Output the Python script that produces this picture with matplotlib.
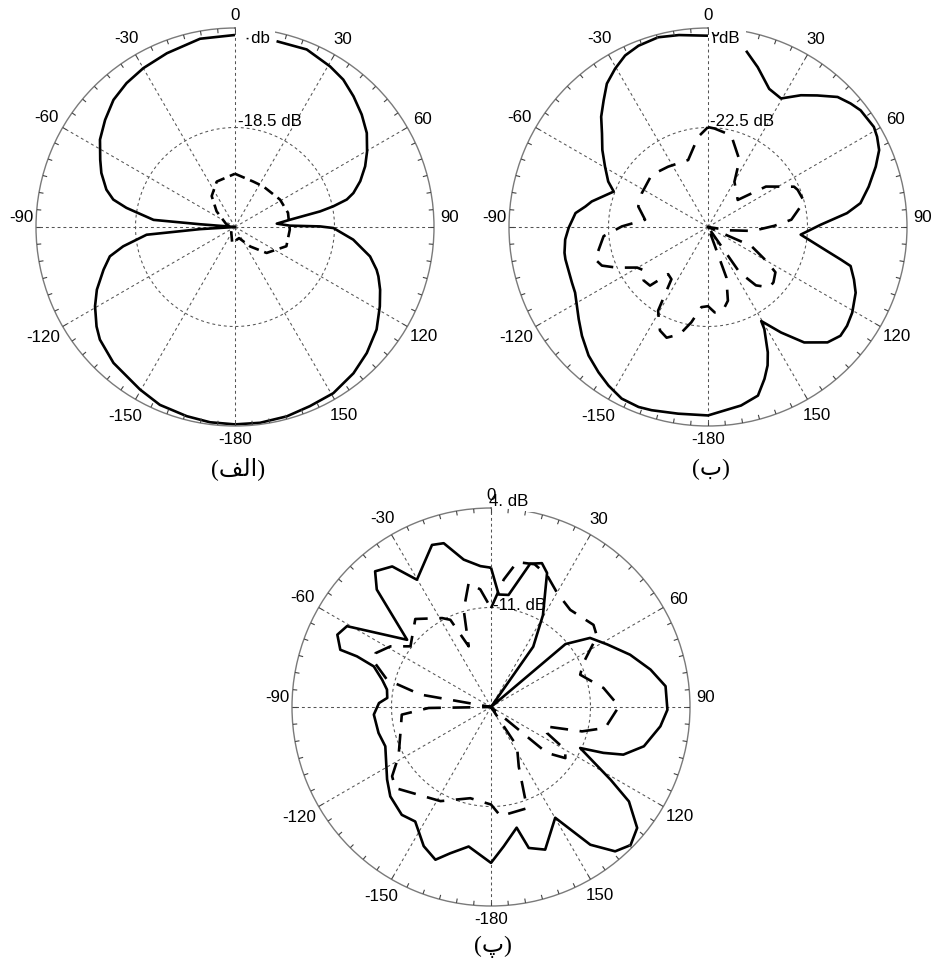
import numpy as np
import matplotlib
matplotlib.use("Agg")
import matplotlib.pyplot as plt
from matplotlib.patches import Rectangle

# ---------------- radiation patterns (angle in degrees, clockwise from top; level in dB) ----------------
# panel (الف): scale -37 .. 0 dB
a_solid_deg = [12.6, 22.0, 30.6, 36.3, 42.2, 48.4, 54.5, 60.2, 65.0, 69.9, 74.0, 76.2, 78.1, 79.6,
               82.4, 85.4, 88.6, 89.6, 90.6, 96.1, 102.3, 106.8, 109.0, 113.4, 118.7, 125.9, 133.7,
               141.0, 149.4, 157.3, 164.7, 172.7, 180.0, 187.3, 194.3, 202.9, 210.3, 221.8, 230.2,
               234.3, 240.5, 245.6, 252.0, 256.8, 260.2, 265.0, 266.5, 270.0, 274.5, 275.0, 280.0,
               282.7, 286.2, 292.0, 296.5, 302.9, 309.5, 316.3, 323.0, 330.0, 338.6, 349.5, 360.0]
a_solid_db = [-1.6, -1.4, -2.3, -3.0, -4.2, -5.5, -6.9, -8.7, -10.3, -12.2, -14.1, -15.6, -18.3, -20.9,
              -26.6, -29.2, -26.8, -21.2, -18.7, -14.9, -11.3, -9.5, -8.8, -7.6, -6.3, -4.5, -3.1,
              -2.0, -1.1, -0.9, -0.5, -0.3, -0.3, -0.4, -0.7, -1.1, -2.0, -3.1, -4.3,
              -5.3, -7.1, -8.8, -11.3, -13.1, -15.9, -20.5, -30.5, -37.0, -30.5, -21.8, -16.5,
              -13.8, -12.1, -10.2, -9.0, -7.1, -5.7, -4.3, -3.5, -2.9, -2.3, -1.4, -1.3]
a_dash_deg = [0.0, 21.9, 34.9, 58.7, 75.0, 92.8, 110.5, 129.4, 142.0, 160.0, 190.0, 220.0, 260.0,
              290.0, 310.5, 323.0, 338.1, 360.0]
a_dash_db = [-27.1, -27.9, -27.8, -27.2, -26.8, -26.8, -26.8, -29.4, -32.4, -34.8, -34.0, -35.9, -36.3,
             -35.2, -32.5, -29.8, -27.9, -27.1]

# panel (ب): scale -47 .. 2 dB
b_solid_deg = [12.2, 17.3, 23.9, 29.6, 35.2, 39.7, 44.9, 49.1, 52.6, 58.9, 61.9, 65.8, 70.2, 75.9,
               81.1, 84.3, 88.8, 94.7, 101.5, 103.8, 105.3, 109.8, 114.0, 120.7, 125.4, 129.4, 134.0,
               140.2, 145.3, 150.5, 151.1, 154.5, 156.7, 159.6, 163.5, 169.5, 180.0, 189.1, 197.1,
               201.1, 206.7, 212.1, 217.0, 222.9, 229.2, 234.5, 243.7, 247.7, 257.2, 259.8, 265.0,
               269.7, 276.0, 279.5, 282.4, 290.6, 294.5, 300.4, 306.1, 311.4, 315.9, 320.5, 324.8,
               329.6, 334.2, 339.0, 345.3, 351.4, 360.0]
b_solid_db = [-2.6, -5.8, -9.8, -10.6, -7.3, -4.9, -1.8, -0.55, 0.3, 0.7, 0.2, -0.8, -3.1, -6.2,
              -9.0, -12.6, -19.2, -24.1, -17.0, -13.3, -10.6, -8.8, -7.2, -5.7, -5.0, -4.8, -6.1,
              -10.0, -15.4, -20.4, -18.3, -12.8, -9.9, -7.1, -3.7, -2.3, -0.6, -0.45, 0.2,
              0.5, 0.3, -0.9, -2.2, -3.8, -6.0, -7.9, -10.5, -10.8, -11.0, -11.1, -11.7,
              -12.7, -14.2, -16.4, -17.7, -22.2, -20.0, -17.6, -14.8, -12.2, -9.2, -6.6, -3.8,
              -1.8, -0.1, 0.8, 1.3, 0.8, 0.1]
b_dash_deg = [0.0, 3.8, 14.2, 25.2, 30.3, 47.7, 55.1, 64.9, 67.5, 75.1, 85.0, 89.0, 95.0, 98.7, 103.0,
              113.6, 120.2, 123.9, 130.2, 134.5, 140.6, 145.2, 152.0, 160.0, 164.9, 169.9, 175.5,
              180.0, 184.7, 189.9, 194.7, 200.5, 204.9, 210.8, 215.0, 220.2, 224.7, 230.3, 235.2,
              240.2, 246.0, 250.0, 254.0, 265.0, 270.4, 276.6, 286.4, 297.0, 312.7, 326.6, 343.5,
              353.7, 360.0]
b_dash_db = [-22.4, -22.7, -23.7, -28.8, -34.1, -37.1, -29.6, -23.6, -23.1, -22.5, -26.4, -30.7, -35.9,
             -41.6, -47.0, -35.4, -30.4, -27.0, -25.9, -25.8, -28.4, -33.4, -47.0, -33.8, -28.2,
             -26.1, -25.9, -27.5, -27.2, -23.2, -19.7, -17.9, -18.9, -23.0, -31.3, -31.8, -26.7,
             -26.4, -28.1, -26.9, -22.4, -19.2, -18.1, -21.2, -25.8, -31.4, -29.1, -28.7, -28.1,
             -29.2, -29.8, -24.7, -22.4]

# panel (پ): scale -26 .. 4 dB
c_solid_deg = [0.0, 3.9, 8.9, 15.3, 19.5, 22.7, 29.5, 35.0, 40.0, 49.8, 55.1, 61.7, 69.4, 76.8, 83.2,
               90.9, 96.5, 104.4, 109.8, 112.2, 114.7, 121.3, 124.4, 129.6, 134.7, 139.3, 144.2,
               149.9, 159.2, 165.0, 168.0, 174.8, 180.0, 189.1, 195.6, 200.0, 205.8, 213.5, 219.6,
               228.4, 235.1, 249.6, 257.0, 266.3, 272.0, 275.0, 279.5, 284.0, 289.1, 290.7, 290.8,
               295.2, 299.3, 308.7, 315.8, 319.5, 324.9, 329.8, 340.0, 343.9, 349.5, 355.7, 360.0]
c_solid_db = [-5.0, -9.0, -8.9, -3.6, -3.0, -4.1, -10.1, -14.9, -26.0, -11.3, -7.8, -6.1, -3.6, -1.3, 0.5,
              0.6, -0.3, -2.2, -4.8, -7.7, -11.2, -4.9, -0.8, 2.6, 3.6, 2.7, -0.4,
              -6.7, -3.0, -4.0, -7.4, -4.9, -2.5, -4.7, -3.1, -1.5, -2.7, -5.3, -4.9,
              -5.7, -6.9, -9.0, -8.6, -8.3, -9.1, -10.3, -10.1, -9.1, -7.3, -4.4, -1.7,
              -0.4, -1.1, -9.8, -1.3, 0.9, -0.1, -3.8, 0.0, -0.3, -3.4, -4.7, -5.0]
c_dash_deg = [0.0, 5.7, 10.2, 17.0, 23.0, 30.0, 39.2, 51.3, 56.3, 64.6, 70.1, 80.4, 89.7, 100.4, 105.0,
              109.6, 114.9, 119.9, 124.5, 129.4, 137.0, 146.5, 155.0, 160.4, 175.0, 180.0, 192.8,
              208.2, 229.7, 235.0, 241.9, 253.0, 265.1, 269.1, 274.0, 280.0, 284.7, 291.3, 295.0,
              301.1, 307.0, 319.3, 331.2, 335.0, 339.8, 344.3, 349.8, 354.8, 360.0]
c_dash_db = [-11.1, -6.7, -3.8, -3.5, -4.4, -6.1, -7.1, -6.2, -6.8, -10.6, -11.7, -8.8, -6.7, -8.5, -11.8,
             -17.3, -16.7, -13.1, -12.4, -15.1, -26.0, -18.9, -16.1, -9.8, -9.5, -11.3, -11.9,
             -9.9, -7.1, -7.8, -10.2, -11.7, -12.5, -16.6, -26.0, -15.2, -9.8, -7.0, -6.8,
             -8.3, -10.8, -8.5, -10.7, -11.5, -16.25, -10.8, -7.0, -8.2, -11.1]

# angular tick labels
angle_ticks = [0, 30, 60, 90, 120, 150, 180, 210, 240, 270, 300, 330]
angle_names = ['0', '30', '60', '90', '120', '150', '-180', '-150', '-120', '-90', '-60', '-30']

# ---------------- layout ----------------
FIG_W, FIG_H = 935, 964
R = 199  # radius of each polar panel in pixels
PT = 0.72  # points per pixel at 100 dpi

fig = plt.figure(figsize=(FIG_W / 100, FIG_H / 100), dpi=100, facecolor='white')

SANS = ['Liberation Sans', 'DejaVu Sans']
SERIF = ['Liberation Serif', 'DejaVu Sans']
GRID_C = '#555555'
FS = 12.2

# label offsets from the outer circle, in pixels (right, up)
label_offsets = {0: (0, 12.5), 30: (8.5, 14.7), 60: (14.7, 8.5), 90: (16, 10),
                 120: (16.9, -9.8), 150: (9.3, -16.0), 180: (0, -13), 210: (-10, -17.3),
                 240: (-19.1, -11), 270: (-14.6, 10), 300: (-16.5, 9.5), 330: (-9.3, 16.0)}


def polar_panel(cx, cy, rmin, rmax, ring):
    ax = fig.add_axes([(cx - R) / FIG_W, 1 - (cy + R) / FIG_H, 2 * R / FIG_W, 2 * R / FIG_H],
                      projection='polar')
    ax.set_theta_zero_location('N')
    ax.set_theta_direction(-1)
    ax.set_ylim(rmin, rmax)
    ax.set_xticks([])
    ax.set_yticks([])
    ax.grid(False)
    ax.spines['polar'].set_color('#7a7a7a')
    ax.spines['polar'].set_linewidth(1.0)
    span = rmax - rmin
    for deg in range(0, 360, 30):
        ax.plot([np.deg2rad(deg)] * 2, [rmin, rmax], color=GRID_C, lw=0.75,
                ls=(0, (2.8, 2.8)), zorder=1)
    th = np.linspace(0, 2 * np.pi, 721)
    ax.plot(th, np.full_like(th, ring), color=GRID_C, lw=0.75, ls=(0, (2.8, 2.8)), zorder=1)
    for deg in range(0, 360, 5):
        ax.plot([np.deg2rad(deg)] * 2, [rmax - span * 4.5 / R, rmax], color='#444444',
                lw=0.8, zorder=2.6, solid_capstyle='butt')
    for deg, name in zip(angle_ticks, angle_names):
        dx, dy = label_offsets[deg]
        ax.annotate(name, xy=(np.deg2rad(deg), rmax), xytext=(dx * PT, dy * PT),
                    textcoords='offset points', ha='center', va='center',
                    fontsize=FS, family=SANS, zorder=6, annotation_clip=False)
    return ax


def ring_label(ax, text, r, dx, dy, **kw):
    ax.annotate(text, xy=(0, r), xytext=(dx * PT, dy * PT), textcoords='offset points',
                ha='left', va='baseline', fontsize=FS, family=SANS, zorder=5,
                annotation_clip=False, **kw)


def white_box(ax, x0, x1, y0, y1, z):
    # pixel offsets from the panel centre (y downward)
    ax.add_patch(Rectangle((0.5 + x0 / (2 * R), 0.5 - y1 / (2 * R)), (x1 - x0) / (2 * R),
                           (y1 - y0) / (2 * R), transform=ax.transAxes, fc='white', ec='none',
                           zorder=z, clip_on=False))


def trace(ax, deg, db, dashed, dash=(6.8, 4.4)):
    ls = (0, dash) if dashed else '-'
    ax.plot(np.deg2rad(deg), db, color='black', lw=1.9, ls=ls, zorder=2,
            solid_joinstyle='round', dash_joinstyle='round', solid_capstyle='butt')


# panel (الف)
ax_a = polar_panel(235, 227, -37.0, 0.0, -18.5)
trace(ax_a, a_solid_deg, a_solid_db, False)
trace(ax_a, a_dash_deg, a_dash_db, True, dash=(4.0, 2.2))
white_box(ax_a, 1, 40, -202, -178, 2.7)
ring_label(ax_a, '-18.5 dB', -18.5, 3, 1)
ring_label(ax_a, '\u06f0db', 0.0, 7.5, -15.3)

# panel (ب)
ax_b = polar_panel(708, 227, -47.0, 2.0, -22.5)
trace(ax_b, b_solid_deg, b_solid_db, False)
trace(ax_b, b_dash_deg, b_dash_db, True)
white_box(ax_b, 1, 38, -202, -178, 2.7)
ring_label(ax_b, '-22.5 dB', -22.5, 2, 1)
ring_label(ax_b, '\u06f2dB', 2.0, 2, -15)

# panel (پ)
ax_c = polar_panel(491, 707, -26.0, 4.0, -11.0)
trace(ax_c, c_solid_deg, c_solid_db, False)
trace(ax_c, c_dash_deg, c_dash_db, True)
white_box(ax_c, 1, 44, -202, -195, 2.55)
ring_label(ax_c, '-11. dB', -11.0, 2, -2)
ring_label(ax_c, '4. dB', 4.0, -2, 1.5)

# captions
for (x, y), txt in [((238, 469), '(\ufed2\ufedf\ufe8d)'), ((711, 469), '(\u0628)'),
                    ((493, 947), '(\u067e)')]:
    fig.text(x / FIG_W, 1 - y / FIG_H, txt, ha='center', va='center', fontsize=17, family=SERIF)

fig.savefig('out.png', dpi=100, facecolor='white')
